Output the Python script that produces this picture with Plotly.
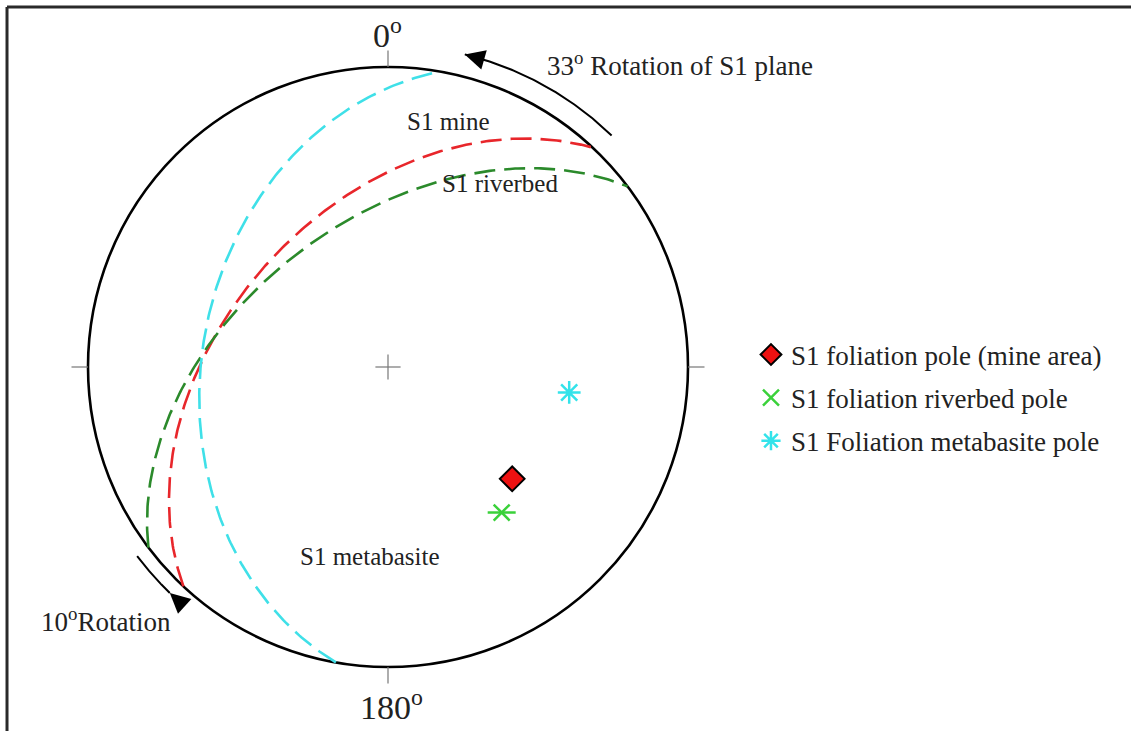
import numpy as np
import plotly.graph_objects as go

# ---------------- data (read from the stereonet) ----------------
plane_names = ["S1 mine", "S1 riverbed", "S1 metabasite"]
plane_strike = [223, 233, 190]          # right-hand-rule strike (deg)
plane_dip = [46, 50, 38]                # dip (deg)
plane_colors = ["#e8262b", "#2b8a2b", "#3fe0e8"]

pole_names = ["S1 foliation pole (mine area)", "S1 foliation riverbed pole",
              "S1 Foliation metabasite pole"]
pole_trend = [132, 142, 98]
pole_plunge = [43.6, 38.4, 38.9]

direction_ticks = [0, 90, 180, 270]
direction_labels = ["0<sup>o</sup>", "", "180<sup>o</sup>", ""]

rot_top_az = [44.0, 13.8]       # 33° rotation arrow, from -> to (azimuth)
rot_bottom_az = [233.0, 224.0]  # 10° rotation arrow

FONT = "Liberation Serif"


def project(trend_deg, plunge_deg):
    """Lower-hemisphere equal-area (Schmidt) projection, primitive radius 1."""
    t = np.radians(np.asarray(trend_deg, float))
    p = np.radians(np.asarray(plunge_deg, float))
    D = np.sin(p)
    h = np.cos(p)
    E = h * np.sin(t)
    N = h * np.cos(t)
    return E / np.sqrt(1 + D), N / np.sqrt(1 + D)


def great_circle(strike, dip):
    s = np.radians(strike)
    d = np.radians(dip)
    b = np.radians(np.linspace(0, 180, 241))
    sv = np.array([np.sin(s), np.cos(s), 0.0])
    dd = s + np.pi / 2
    dv = np.array([np.cos(d) * np.sin(dd), np.cos(d) * np.cos(dd), np.sin(d)])
    v = np.outer(np.cos(b), sv) + np.outer(np.sin(b), dv)
    E, N, D = v[:, 0], v[:, 1], np.clip(v[:, 2], 0, 1)
    return E / np.sqrt(1 + D), N / np.sqrt(1 + D)


def arc(az0, az1, r, n=80):
    a = np.radians(np.linspace(az0, az1, n))
    return r * np.sin(a), r * np.cos(a)


fig = go.Figure()

# great circles
for name, s, d, c in zip(plane_names, plane_strike, plane_dip, plane_colors):
    x, y = great_circle(s, d)
    fig.add_trace(go.Scatter(x=x, y=y, mode="lines", name=name, showlegend=False,
                             line=dict(color=c, width=2.6, dash="21px,9px"),
                             hoverinfo="skip"))

# poles
px, py = project(pole_trend, pole_plunge)
fig.add_trace(go.Scatter(x=[px[0]], y=[py[0]], mode="markers", name=pole_names[0],
                         legendgroup="g0",
                         marker=dict(symbol="diamond", size=19, color="#ee1111",
                                     line=dict(color="black", width=2))))
fig.add_trace(go.Scatter(x=[px[1]], y=[py[1]], mode="markers", name=pole_names[1],
                         legendgroup="g1",
                         marker=dict(symbol="x-thin-open", size=16, color="#3ad13a",
                                     line=dict(color="#3ad13a", width=2.5))))
fig.add_trace(go.Scatter(x=[px[1]], y=[py[1]], mode="markers", name=pole_names[1],
                         legendgroup="g1", showlegend=False,
                         marker=dict(symbol="line-ew-open", size=20, color="#3ad13a",
                                     line=dict(color="#3ad13a", width=2.5))))
fig.add_trace(go.Scatter(x=[px[2]], y=[py[2]], mode="markers", name=pole_names[2],
                         legendgroup="g2",
                         marker=dict(symbol="asterisk-open", size=19, color="#33e3ea",
                                     line=dict(color="#33e3ea", width=2.5))))

# rotation arrows (arcs)
for (a0, a1), r in ((rot_top_az, 1.073), (rot_bottom_az, 1.047)):
    ax_, ay_ = arc(a0, a1, r)
    fig.add_trace(go.Scatter(x=ax_, y=ay_, mode="lines", showlegend=False,
                             line=dict(color="black", width=2), hoverinfo="skip"))

shapes = []
# primitive circle
shapes.append(dict(type="circle", xref="x", yref="y", x0=-1, y0=-1, x1=1, y1=1,
                   line=dict(color="black", width=2.6), layer="below"))
# outer direction ticks
for az in direction_ticks:
    a = np.radians(az)
    shapes.append(dict(type="line", xref="x", yref="y",
                       x0=np.sin(a), y0=np.cos(a),
                       x1=1.055 * np.sin(a), y1=1.055 * np.cos(a),
                       line=dict(color="#777777", width=1.2)))
# centre cross
shapes.append(dict(type="line", xref="x", yref="y", x0=-0.042, y0=0, x1=0.042, y1=0,
                   line=dict(color="#777777", width=1.2)))
shapes.append(dict(type="line", xref="x", yref="y", x0=0, y0=-0.042, x1=0, y1=0.042,
                   line=dict(color="#777777", width=1.2)))
# frame (top and left edges)
shapes.append(dict(type="line", xref="paper", yref="paper", x0=0.0062, y0=0.9904,
                   x1=1.0, y1=0.9904, line=dict(color="#2a2a2a", width=3)))
shapes.append(dict(type="line", xref="paper", yref="paper", x0=0.0062, y0=0.0,
                   x1=0.0062, y1=0.9904, line=dict(color="#2a2a2a", width=3)))

annotations = []
# direction labels
for az, lab in zip(direction_ticks, direction_labels):
    if not lab:
        continue
    a = np.radians(az)
    r = 1.115 if az == 0 else 1.125
    annotations.append(dict(x=r * np.sin(a) + (0.013 if az == 180 else -0.003),
                            y=r * np.cos(a), xref="x", yref="y", text=lab,
                            showarrow=False, xanchor="center", yanchor="middle",
                            font=dict(family=FONT, size=34, color="#222222")))

labels = [
    ("33<sup>o</sup> Rotation of S1 plane", 0.523, 1.01, 27),
    ("S1 mine", 0.057, 0.82, 25),
    ("S1 riverbed", 0.173, 0.613, 25),
    ("S1 metabasite", -0.30, -0.63, 25),
    ("10<sup>o</sup>Rotation", -1.163, -0.843, 27),
]
for t, x, y, fs in labels:
    annotations.append(dict(x=x, y=y, xref="x", yref="y", text=t, showarrow=False,
                            xanchor="left", yanchor="middle",
                            font=dict(family=FONT, size=fs, color="#222222")))

# arrowheads at the arc tips
for (a0, a1), r, back in ((rot_top_az, 1.073, 4.0), (rot_bottom_az, 1.047, -4.0)):
    tx, ty = arc(a1, a1, r, 1)
    bx, by = arc(a1 + back, a1 + back, r, 1)
    annotations.append(dict(x=tx[0], y=ty[0], ax=bx[0], ay=by[0], xref="x", yref="y",
                            axref="x", ayref="y", text=" ", showarrow=True,
                            arrowhead=2, arrowsize=2.0, arrowwidth=2,
                            arrowcolor="black", font=dict(size=2)))

fig.update_layout(
    width=1131, height=731,
    margin=dict(l=0, r=0, t=0, b=0),
    paper_bgcolor="white", plot_bgcolor="white",
    xaxis=dict(range=[-1.29333, 2.47667], visible=False, fixedrange=True),
    yaxis=dict(range=[-1.21333, 1.22333], visible=False, fixedrange=True),
    shapes=shapes, annotations=annotations,
    showlegend=True,
    legend=dict(x=0.664, y=0.548, xanchor="left", yanchor="top",
                font=dict(family=FONT, size=27, color="#222222"),
                bgcolor="rgba(0,0,0,0)", tracegroupgap=5, itemsizing="trace"),
)

fig.write_html("out.html", config={"displayModeBar": False},
               post_script="document.body.style.margin='0px';"
                           "document.body.style.overflow='hidden';")
